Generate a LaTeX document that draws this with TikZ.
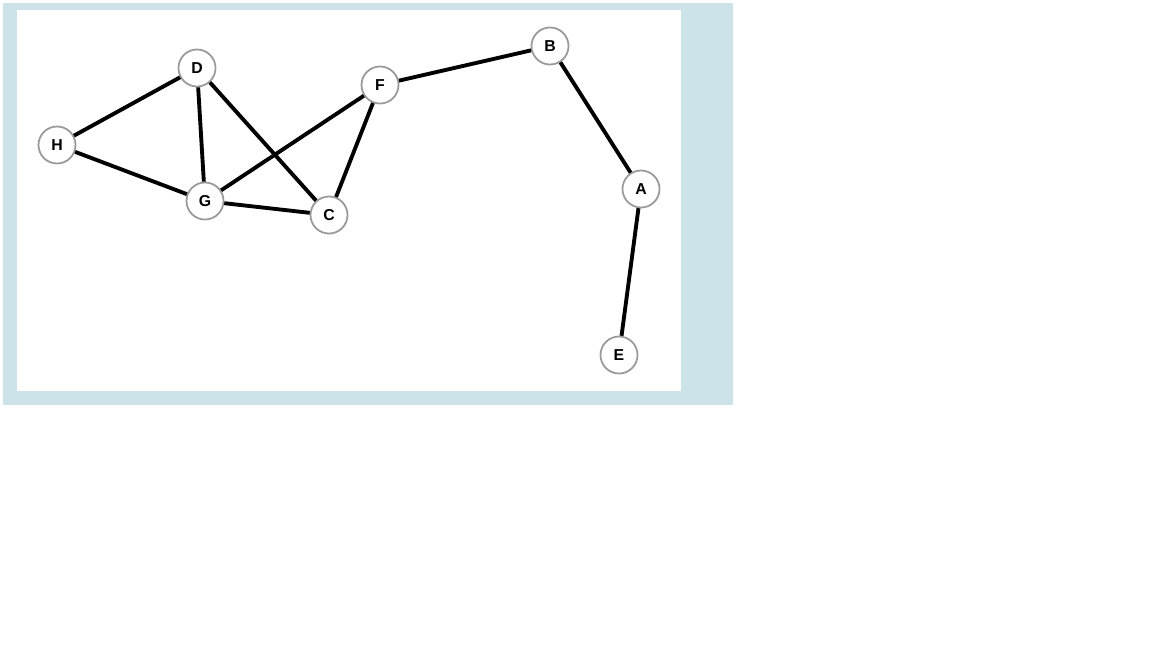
\documentclass[tikz,border=0pt]{standalone}
\usepackage{fontspec}
\setmainfont{Liberation Sans}
\definecolor{frameblue}{RGB}{204,228,233}

\begin{document}
\begin{tikzpicture}[x=0.01cm,y=-0.01cm,font=\fontsize{4.5}{5}\selectfont\bfseries,
  vertex/.style={circle,draw=gray!80,line width=0.5pt,fill=white,minimum size=0.37cm,inner sep=0pt},
  edge/.style={line width=1.1pt,black}]

\useasboundingbox (0,0) rectangle (1152,648);
\fill[frameblue] (3,3) rectangle (733,405);
\fill[white] (17,10) rectangle (681,391);

\begin{scope}
\node[vertex] (d) at (197,68) {D};
\node[vertex] (f) at (380,85) {F};
\node[vertex] (b) at (550,46) {B};
\node[vertex] (h) at (57,145) {H};
\node[vertex] (g) at (205,201) {G};
\node[vertex] (c) at (329,215) {C};
\node[vertex] (a) at (641,189) {A};
\node[vertex] (e) at (619,355) {E};

\draw[edge] (h) -- (d);
\draw[edge] (h) -- (g);
\draw[edge] (d) -- (g);
\draw[edge] (d) -- (c);
\draw[edge] (g) -- (f);
\draw[edge] (g) -- (c);
\draw[edge] (f) -- (c);
\draw[edge] (f) -- (b);
\draw[edge] (b) -- (a);
\draw[edge] (a) -- (e);
\end{scope}

\end{tikzpicture}
\end{document}
